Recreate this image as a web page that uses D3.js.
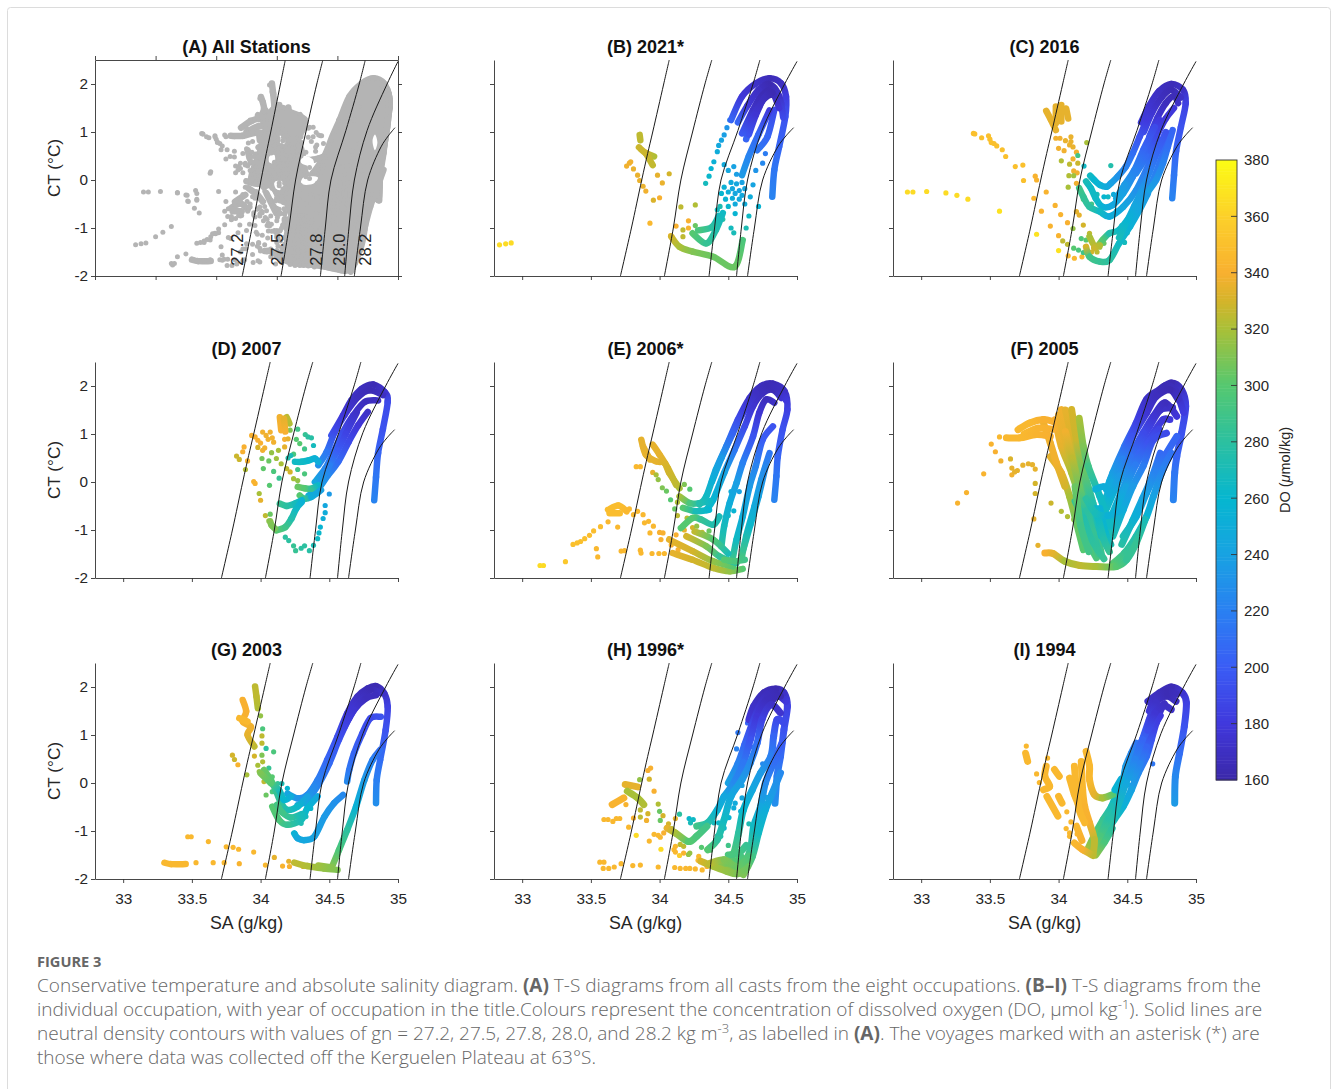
<!DOCTYPE html>
<html>
<head>
<meta charset="utf-8">
<script src="https://cdn.jsdelivr.net/npm/d3@7"></script>
<style>
body { margin:0; background:#fff; }
text { font-family:"Liberation Sans", Arial, sans-serif; fill:#262626; }
.caption text { font-family:"Open Sans", sans-serif; font-weight:300; fill:#666; }
.caption .strong { font-weight:700; }
</style>
</head>
<body>
<div id="chart-area"></div>
<script>
// neutral density contours, [SA, CT]
var contour272 = [[33.715,-2],[33.795,-1],[33.87,0],[33.913,0.55],[33.95,1],[34.03,2],[34.07,2.5]];
var contour275 = [[34.035,-2],[34.1,-1],[34.155,0],[34.24,1],[34.33,2],[34.38,2.5]];
var contour278 = [[34.36,-2],[34.4,-1],[34.447,0],[34.57,1.03],[34.68,2],[34.73,2.5]];
var contour280 = [[34.56,-2],[34.595,-1],[34.64,0],[34.745,1.03],[34.91,2],[35,2.47]];
var contour282 = [[34.64,-2],[34.69,-1],[34.75,0],[34.86,0.69],[34.92,0.92],[34.975,1.09]];
var contourNames = ["27.2","27.5","27.8","28.0","28.2"];
var contourLabelSA = [33.67,34.0,34.32,34.51,34.73];

var saTicks = [33,33.5,34,34.5,35];
var saTicksAll = [32.5,33,33.5,34,34.5,35];
var ctTicks = [-2,-1,0,1,2];
var doTicks = [160,180,200,220,240,260,280,300,320,340,360,380];
var doStops = [160,180,200,220,240,260,280,300,320,330,340,360,380];
var doColours = ["#3b28a8","#4038dc","#3a5cf5","#2a80f2","#18a2e2","#06b6d0","#2cc0a0","#55c870","#a8c038","#d4b42a","#f8b030","#fcd02a","#fcfc14"];

// panel (A) solid parts of the grey cloud, [SA, CT]
var aMainEnvelope = [[34.05,-1.6],[34.08,-1.67],[34.3,-1.8],[34.58,-1.85],[34.7,-1.46],[34.78,-0.49],[34.82,-0.42],[34.85,-0.42],[34.86,0.49],[34.9,1.18],[34.905,1.67],[34.87,1.93],[34.8,2.03],[34.72,2.02],[34.62,1.82],[34.54,1.44],[34.45,0.95],[34.385,0.54],[34.315,0.26],[34.27,0.12],[34.16,-0.2],[34.11,-0.76],[34.08,-1.18]];
var aUpperEnvelope = [[33.89,0.83],[33.96,1.5],[34.11,1.45],[34.25,1.25],[34.19,0.83],[34.16,0.35],[34.25,0.14],[34.16,-0.35],[34.05,-0.49],[33.94,-0.14],[33.78,-0.07],[33.83,0.49]];
var aHoles = [
  [[34.22,0.5],[34.3,0.42],[34.3,0.3],[34.2,0.36]],
  [[34.22,0.05],[34.34,0.05],[34.3,-0.08],[34.2,-0.08]],
  [[33.98,-0.05],[34.04,-0.02],[34.06,-0.2],[34,-0.2]],
  [[34.02,0.9],[34.05,0.95],[34.07,0.75],[34.04,0.72]],
  [[34.79,0.82],[34.81,0.95],[34.83,0.78],[34.81,0.62]],
  [[33.94,0.5],[33.98,0.52],[33.98,0.36],[33.94,0.36]]
];
var aDots = [[34.3,0.9],[34.36,0.92],[34.33,0.73],[34.26,1.08],[34.3,1.1],[33.94,1.98],[33.96,1.84],[33.86,1.7],[33.89,1.63],[33.78,1.25],[33.75,1.08],[33.72,0.9],[33.65,0.9],[33.58,0.9],[33.49,0.9],[33.42,0.9],[33.39,0.96],[33.45,0.14],[33.25,-0.31],[33.34,-0.28],[33.27,-0.45],[33.34,-0.42],[33.32,-0.59],[33.36,-0.69],[33.52,-0.24],[33.18,-0.26],[33,-1.18],[33.06,-1.09],[33.13,-0.97],[33.34,-1.32],[33.4,-1.3],[33.45,-1.25],[33.52,-1.1],[33.14,-1.77],[33.18,-1.6],[33.25,-1.54],[33.31,-1.67],[33.4,-1.68],[33.45,-1.66],[33.55,-1.67],[33.6,-0.6],[33.65,-0.5],[33.7,-0.4],[33.63,-0.8],[33.7,-0.75],[33.76,-0.65],[33.72,-0.3],[33.8,-0.35],[33.75,-1.05],[33.82,-0.95],[33.88,-1.15],[33.9,-0.55],[33.95,-0.75],[34,-0.85],[33.7,-1.5],[33.8,-1.55],[33.95,-1.6],[34,-1.3],[33.65,0.6],[33.7,0.35],[33.75,0.65],[33.8,0.8],[33.8,1],[33.85,1.25],[34.32,0.6],[34.4,0.45],[34.36,0.3],
  [33.98,-0.55],[34.02,-0.7],[34.06,-0.85],[34.04,-1],[33.98,-1.05],[33.92,-0.95],[33.86,-0.75],[33.84,-0.6],[33.78,-0.5],[33.74,-0.15],[33.66,-0.25],[33.58,-0.45],[34,-1.2],[34.04,-1.4],[33.9,-1.35],[33.92,-1.5],[34.02,-1.55],[33.85,-1.3],[33.68,-1.1],[33.6,-1.2],[33.72,0.15],[33.78,0.2],[33.72,0.55],[33.78,0.55]];

var bTracks = [
  [[34.82,-0.35,222],[34.835,0.21,215],[34.87,0.69,205],[34.915,1.32,195],[34.92,1.74,182],[34.885,2.01,170],[34.8,2.12,166],[34.7,2.01,172],[34.6,1.74,178],[34.52,1.25,205]],
  [[34.905,1.5,190],[34.885,1.6,180],[34.825,1.94,164],[34.75,1.81,165],[34.68,1.46,172],[34.6,0.97,198]],
  [[34.86,1.72,172],[34.81,1.78,164],[34.74,1.62,168],[34.67,1.22,182],[34.63,0.85,205]],
  [[34.835,1.46,190],[34.785,0.9,205],[34.71,0.62,215]],
  [[34.8,1.45,180],[34.72,0.95,205],[34.65,0.5,222],[34.6,0.1,235]],
  [[34.9,1.3,190],[34.87,1.75,172],[34.8,2,164],[34.72,1.88,170],[34.64,1.55,178],[34.57,1.2,205]],
  [[34.87,1.5,178],[34.82,1.82,164],[34.76,1.7,168],[34.7,1.35,176],[34.65,0.95,195]],
  [[34.605,-1.25,295],[34.545,-1.81,305],[34.39,-1.6,305],[34.24,-1.49,310],[34.145,-1.39,320],[34.085,-1.18,330]],
  [[34.24,-1.11,300],[34.34,-1.32,285],[34.41,-1.04,275],[34.46,-0.69,265]],
  [[34.28,-1.05,295],[34.38,-0.98,280],[34.43,-0.75,268]],
  [[33.855,0.94,325],[33.86,0.83,325]],
  [[33.85,0.68,328],[33.9,0.56,328],[33.96,0.49,322]],
  [[33.9,0.56,328],[33.95,0.31,326]]
];
var bDots = [[34.51,1.25,228],[34.49,1.09,232],[34.47,0.94,238],[34.45,0.83,242],[34.43,0.72,246],[34.42,0.59,250],[34.395,0.38,254],[34.375,0.24,258],[34.36,0.08,262],[34.335,-0.07,268],
  [33.76,0.29,338],[33.78,0.35,338],[33.79,0.38,338],[33.81,0.23,336],[33.84,0.1,336],[33.855,-0.01,336],[33.88,-0.13,336],[33.9,-0.23,338],[33.955,-0.42,332],[34,-0.37,340],[33.985,0.1,335],[34.02,-0.06,336],[34.07,0.13,330],[33.93,-0.9,345],[34.155,-0.56,325],[34.26,-0.52,322],[34.12,-0.96,340],[34.08,-1.16,345],[34.21,-0.85,340],[34.21,-1,342],[34.17,-1.04,325],[34.17,-1.18,325],[34.26,-0.95,305],
  [32.835,-1.35,365],[32.88,-1.33,365],[32.92,-1.31,365],
  [34.45,-0.28,260],[34.47,-0.15,255],[34.48,-0.4,258],[34.5,-0.55,262],[34.5,-0.25,252],[34.52,-0.05,248],[34.53,-0.38,250],[34.53,-0.18,245],[34.55,-0.5,248],[34.55,-0.28,244],[34.56,-0.08,244],[34.58,-0.4,246],[34.58,-0.22,242],[34.6,-0.05,240],[34.6,-0.32,246],[34.62,-0.5,250],[34.62,-0.18,244],[34.56,0.12,238],[34.54,0.28,240],[34.5,0.2,245],[34.47,0.32,248],[34.44,-0.55,272],[34.46,-0.82,278],[34.42,-0.62,268],[34.55,-0.7,258],[34.52,-1,268],[34.54,-1.1,270],[34.66,-0.35,250],[34.68,-0.1,242],[34.7,0.2,232],[34.65,-0.75,265],[34.63,-1,272],[34.72,-0.55,258],[34.75,0.35,225],[34.77,0.55,218]];

var cTracks = [
  [[34.827,-0.38,222],[34.84,0.1,215],[34.855,0.6,205],[34.89,1.1,195],[34.925,1.6,185],[34.905,1.88,172],[34.82,2,166],[34.73,1.85,170],[34.66,1.55,175],[34.6,1.2,182]],
  [[34.89,1.72,172],[34.82,1.88,165],[34.75,1.72,168],[34.68,1.4,176],[34.62,1,190]],
  [[34.87,1.6,172],[34.84,1.75,166],[34.78,1.6,168],[34.72,1.3,176],[34.66,0.9,192]],
  [[34.84,1.5,180],[34.78,1.28,178],[34.71,0.9,190],[34.64,0.49,208],[34.565,0.14,225]],
  [[34.23,0.09,265],[34.26,0,260],[34.3,-0.1,255],[34.35,-0.14,248],[34.38,-0.07,240],[34.43,0.07,232],[34.49,0.28,222],[34.54,0.56,210],[34.59,0.9,195],[34.64,1.25,180]],
  [[34.2,-0.03,270],[34.235,-0.17,265],[34.27,-0.38,265],[34.32,-0.56,255],[34.395,-0.52,245],[34.47,-0.28,240],[34.54,0.07,225],[34.61,0.49,210],[34.685,0.97,190],[34.735,1.25,180]],
  [[34.15,-0.17,290],[34.18,-0.35,285],[34.225,-0.56,280],[34.3,-0.66,265],[34.37,-0.76,250],[34.47,-0.56,245],[34.565,-0.21,230],[34.66,0.35,212],[34.735,0.83,190]],
  [[34.225,-1.18,320],[34.27,-1.39,325],[34.32,-1.25,300],[34.37,-1.11,275],[34.44,-1.04,265],[34.52,-0.76,255],[34.59,-0.49,245],[34.675,-0.07,225],[34.735,0.35,215],[34.81,0.97,200]],
  [[34.2,-1.39,330],[34.225,-1.6,290],[34.3,-1.7,285],[34.37,-1.67,280],[34.44,-1.32,265],[34.52,-0.97,255],[34.59,-0.62,245],[34.65,-0.28,235]],
  [[34.83,1.04,205],[34.795,0.69,210],[34.76,0.35,222],[34.71,0,232],[34.66,-0.21,240]],
  [[34.78,1,195],[34.72,0.6,205],[34.66,0.15,222],[34.6,-0.25,235],[34.55,-0.55,245],[34.5,-0.85,258],[34.44,-1.2,270]],
  [[34.7,1.1,190],[34.62,0.65,205],[34.55,0.2,222],[34.48,-0.1,235],[34.42,-0.38,245]],
  [[33.91,1.44,335],[33.945,1.25,335],[33.98,1.04,335]],
  [[33.98,1.53,335],[33.98,1.18,335]],
  [[34.02,1.56,335],[34.02,1.22,335]],
  [[34.055,1.49,335],[34.07,1.28,335]],
  [[34.26,-1.42,328],[34.3,-1.36,322]]
];
var cDots = [[32.9,-0.25,365],[32.94,-0.25,365],[33.04,-0.24,365],[33.18,-0.27,365],[33.26,-0.32,365],[33.34,-0.4,365],[33.57,-0.65,368],
  [33.38,0.97,350],[33.39,0.96,350],[33.44,0.88,350],[33.49,0.92,350],[33.5,0.85,350],[33.51,0.78,350],[33.53,0.76,350],[33.55,0.71,350],[33.59,0.63,350],[33.615,0.49,350],[33.685,0.28,350],[33.74,0.31,350],[33.745,-0.01,350],
  [33.83,0.08,342],[33.84,0,342],[33.82,-0.38,345],[33.91,-0.25,342],[33.875,-0.65,342],[33.975,-0.53,342],[34.015,-0.72,342],[33.94,-0.96,342],[34.065,-0.89,340],[34,-1.16,342],[33.84,-1.13,368],[34,-1.47,368],[34.07,-1.58,345],[34.115,-1.63,345],[34.17,-1.6,345],
  [33.98,0.87,338],[34.01,0.87,338],[34.05,0.82,336],[34.09,0.9,336],[34.09,0.8,336],[34.08,0.73,336],[34.105,0.69,336],[34,0.66,338],[34.04,0.61,338],[34.13,0.58,338],[34.205,0.78,320],[34.14,0.51,290],[34.105,0.44,338],[34.14,0.35,328],[34.02,0.4,322],[34.08,0.33,325],[34.185,0.29,265],[34.11,0.19,338],[34.135,0.15,338],[34.075,0.09,322],[34.11,0.09,318],[34.13,-0.07,338],[34.07,-0.15,320],
  [34.105,-1.01,315],[34.13,-0.66,335],[34.15,-0.73,335],[34.18,-0.94,330],[34.225,-1.11,325],[34.03,-1.27,325],[34.065,-1.34,325],[34.11,-1.42,300],[34.145,-1.46,295],[34.18,-1.51,290],[34.2,-1.25,300],[34.165,-1.22,295],[34.18,-0.4,300],[34.24,-0.5,290],[34.28,-0.3,270],[34.36,-0.35,265],[34.38,0.3,275],[34.4,-0.3,250],[34.33,-0.35,260],[34.42,-0.65,258],[34.46,-0.95,262],[34.5,-1.1,270],[34.48,-1.3,268],
  [34.2,-1.4,328],[34.24,-1.5,330],[34.28,-1.5,325],[34.3,-1.4,318],[34.33,-1.32,305]];

var dTracks = [
  [[34.827,-0.38,222],[34.84,0.1,215],[34.855,0.6,205],[34.89,1.1,195],[34.925,1.67,190],[34.905,1.87,175],[34.82,2.03,165],[34.735,1.94,168],[34.66,1.7,172],[34.6,1.39,178],[34.515,0.97,195]],
  [[34.89,1.81,170],[34.795,1.91,165],[34.71,1.77,168],[34.61,1.39,178],[34.54,1.04,190],[34.48,0.62,215],[34.42,0.35,230]],
  [[34.855,1.7,170],[34.76,1.67,168],[34.675,1.39,175],[34.6,1.04,190],[34.53,0.62,208],[34.47,0.28,225],[34.395,0,245]],
  [[34.78,1.46,172],[34.71,1.18,178],[34.64,0.83,190],[34.565,0.42,208],[34.49,0.14,225],[34.42,-0.14,240],[34.35,-0.28,250]],
  [[34.7,1.45,172],[34.62,1,186],[34.56,0.65,200],[34.5,0.35,220],[34.44,0.05,235]],
  [[34.25,0.42,265],[34.3,0.42,265],[34.35,0.45,262],[34.395,0.49,255],[34.42,0.42,250]],
  [[34.27,-0.1,305],[34.32,-0.13,300],[34.37,-0.14,285],[34.42,-0.07,262]],
  [[34.285,-0.28,300],[34.32,-0.35,285],[34.37,-0.31,250],[34.44,-0.17,240]],
  [[34.14,-0.45,285],[34.19,-0.5,280],[34.25,-0.45,270],[34.3,-0.38,260]],
  [[34.115,-1.01,300],[34.18,-0.94,290],[34.225,-0.76,275],[34.26,-0.55,265],[34.3,-0.42,255]],
  [[34.07,-0.82,312],[34.08,-0.9,310],[34.105,-0.97,308]],
  [[34.14,1.35,338],[34.15,1.08,340]],
  [[34.19,1.35,325],[34.21,1.22,322]],
  [[34.17,1.32,335],[34.18,1.05,340]]
];
var dDots = [[34.18,-1.15,280],[34.205,-1.22,280],[34.24,-1.33,285],[34.255,-1.43,285],[34.295,-1.38,280],[34.32,-1.33,280],[34.355,-1.43,278],[34.385,-1.32,272],[34.415,-1.18,265],[34.425,-1.06,262],[34.435,-0.94,258],[34.455,-0.76,252],[34.47,-0.64,250],[34.47,-0.49,245],[34.5,-0.25,235],
  [33.935,0.97,340],[33.96,0.94,340],[33.98,0.87,340],[34,0.81,340],[34.015,1.04,338],[34.04,0.97,338],[34.055,0.89,338],[34.07,1.04,338],[34.085,0.92,338],[34.095,0.83,338],
  [33.88,0.73,340],[33.87,0.63,340],[33.825,0.54,328],[33.845,0.47,328],[33.905,0.44,342],[33.89,0.26,322],[33.98,0.72,330],[34.03,0.71,338],[34.015,0.66,338],[34.01,0.49,308],[34.06,0.44,305],[34.02,0.28,302],[33.95,0.01,342],[33.96,-0.03,342],[34.065,-0.07,300],[33.99,-0.24,320],[34,-0.38,335],[34.035,-0.7,325],[34.07,-0.67,305],[34.06,-0.81,315],[34.095,0.22,295],[34.135,0.08,285],[34.175,0.89,340],[34.2,0.9,335],[34.24,0.58,295],[34.27,1.1,290],[34.325,0.99,285],[34.345,0.94,280],[34.37,0.92,278],[34.385,0.76,268],[34.32,0.69,290],[34.26,0.89,300],[34.285,0.8,300],[34.215,1.08,310],[34.175,0.73,335],[34.13,0.66,320],[34.08,0.61,315],[34.115,0.49,318],[34.15,0.38,320],[34.19,0.28,325],[34.215,0.21,330],[34.24,0.07,320],[34.27,0.03,315],[34.32,0.17,295],[34.27,0.26,290],[34.2,0.5,275],[34.22,0.55,270]];

var eTracks = [
  [[34.835,-0.37,222],[34.85,0.12,215],[34.86,0.53,205],[34.895,1.09,195],[34.93,1.51,185],[34.91,1.89,172],[34.825,2.05,165],[34.74,2,168],[34.655,1.75,174],[34.57,1.3,190],[34.485,0.74,222],[34.41,0.26,245],[34.34,-0.3,265],[34.29,-0.47,275]],
  [[34.885,1.75,175],[34.825,1.92,165],[34.75,1.85,168],[34.68,1.58,175],[34.62,1.16,190],[34.545,0.67,215],[34.47,0.19,240],[34.39,-0.37,258],[34.34,-0.58,265]],
  [[34.92,1.7,180],[34.86,1.95,168],[34.78,2,165],[34.7,1.85,170],[34.62,1.5,182],[34.53,1,205],[34.45,0.5,235],[34.38,0,255]],
  [[34.835,1.65,172],[34.775,1.72,168],[34.725,1.44,176],[34.68,0.95,195],[34.605,0.4,220],[34.56,-0.02,238],[34.51,-0.44,250],[34.47,-0.92,268],[34.45,-1.34,280]],
  [[34.825,1.16,195],[34.75,0.88,200],[34.7,0.33,222],[34.655,-0.09,235],[34.605,-0.72,250],[34.56,-1.2,265],[34.535,-1.55,285]],
  [[34.8,0.6,215],[34.74,0.05,232],[34.69,-0.51,248],[34.63,-1.13,270],[34.595,-1.62,295]],
  [[34.77,0.3,225],[34.72,-0.3,240],[34.66,-0.9,262],[34.61,-1.4,285]],
  [[34.095,-1.48,335],[34.24,-1.62,330],[34.39,-1.79,325],[34.51,-1.86,315],[34.605,-1.81,300]],
  [[34.07,-1.2,335],[34.24,-1.44,330],[34.39,-1.65,315],[34.535,-1.76,300]],
  [[34.195,-1.13,330],[34.34,-1.34,310],[34.435,-1.55,285],[34.56,-1.69,280]],
  [[34.255,-1.03,325],[34.39,-1.2,300],[34.5,-1.49,270]],
  [[34.47,-1.62,300],[34.55,-1.65,295],[34.62,-1.62,290]],
  [[34.145,-0.3,320],[34.22,-0.44,295],[34.29,-0.44,275],[34.365,-0.4,265]],
  [[34.17,-0.54,300],[34.265,-0.61,270],[34.36,-0.58,260]],
  [[34.155,-0.96,300],[34.24,-0.75,300],[34.3,-0.78,285],[34.39,-0.89,275],[34.435,-0.72,270]],
  [[33.867,0.88,335],[33.9,0.57,335],[33.975,0.43,335],[34.035,0.4,332],[34.07,0.19,330],[34.145,-0.13,320]],
  [[33.95,0.78,335],[34,0.57,335],[34.06,0.29,330],[34.12,-0.06,325]],
  [[33.88,0.74,335],[33.93,0.47,335]],
  [[33.625,-0.58,348],[33.7,-0.49,348],[33.76,-0.61,345]],
  [[33.636,-0.65,348],[33.71,-0.65,348]]
];
var eDots = [[33.83,0.32,345],[33.86,0.32,345],[33.95,0.2,335],[33.975,0.15,320],[33.99,0.05,315],[34.02,-0.12,310],[34.05,-0.19,305],[34.08,-0.37,300],[34.11,-0.56,305],[34.13,-0.7,325],
  [33.78,-0.56,345],[33.81,-0.68,345],[33.84,-0.61,345],[33.88,-0.68,345],[33.89,-0.85,345],[33.92,-0.82,345],[33.955,-0.92,345],[33.93,-1.06,345],[34,-1.05,340],[34.025,-1.06,340],[34.01,-1.2,340],[34.07,-1.18,335],[34.085,-1.31,340],[34.135,-1.41,340],[33.625,-0.83,345],[33.57,-0.93,348],[33.52,-1.02,348],[33.49,-1.11,348],[33.455,-1.18,350],[33.425,-1.24,350],[33.4,-1.27,350],[33.37,-1.3,350],[33.695,-0.94,345],[33.54,-1.39,345],[33.55,-1.56,345],[33.72,-1.44,345],[33.745,-1.43,345],[33.86,-1.42,345],[33.865,-1.48,345],[33.945,-1.49,345],[33.995,-1.49,345],[34.035,-1.49,345],[33.315,-1.66,355],[33.13,-1.74,365],[33.155,-1.74,365],
  [34.18,-0.05,310],[34.22,-0.15,300],[34.2,-0.75,322],[34.24,-0.95,330],[34.13,-0.42,322],[34.27,-0.92,315],[34.31,-1.05,325],[34.36,-1.02,305],[34.18,-1,335],[34.12,-1.1,340],[34.52,-0.2,250],[34.54,-0.6,258],[34.58,-0.2,240],[34.5,-0.7,268]];

var fTracks = [
  [[34.835,-0.37,222],[34.845,0.19,215],[34.86,0.53,205],[34.895,1.02,195],[34.925,1.58,185],[34.895,1.92,172],[34.82,2.06,164],[34.735,1.92,168],[34.64,1.72,172],[34.565,1.23,188],[34.48,0.74,215],[34.395,0.19,240],[34.35,-0.16,255]],
  [[34.91,1.45,182],[34.85,1.9,168],[34.77,2,165],[34.68,1.75,170],[34.6,1.38,180],[34.52,0.9,198],[34.44,0.45,225],[34.37,0,248]],
  [[34.87,1.72,172],[34.81,1.92,164],[34.71,1.78,168],[34.64,1.44,176],[34.54,0.95,195],[34.47,0.47,222],[34.395,-0.02,245],[34.325,-0.44,265]],
  [[34.83,1.55,172],[34.74,1.5,172],[34.66,1.15,184],[34.57,0.72,202],[34.49,0.3,225],[34.41,-0.15,250],[34.35,-0.55,265]],
  [[34.86,1.37,178],[34.775,1.65,168],[34.69,1.37,176],[34.615,1.02,190],[34.52,0.53,212],[34.445,0.12,235],[34.375,-0.3,255],[34.325,-0.72,270]],
  [[34.81,1.3,180],[34.76,1.3,178],[34.69,1.02,186],[34.59,0.6,205],[34.52,0.19,225],[34.445,-0.3,248],[34.375,-0.78,265]],
  [[34.73,1.1,186],[34.65,0.8,195],[34.56,0.35,218],[34.49,-0.1,240],[34.42,-0.6,258],[34.36,-1.05,272]],
  [[34.785,1.02,190],[34.69,0.88,192],[34.615,0.33,218],[34.54,-0.09,235],[34.47,-0.58,250],[34.395,-1.13,272]],
  [[34.74,0.6,208],[34.68,0.1,226],[34.61,-0.35,242],[34.54,-0.8,258],[34.46,-1.3,278]],
  [[34.86,0.95,205],[34.785,0.6,208],[34.71,0.19,222],[34.64,-0.23,238],[34.565,-0.72,252],[34.47,-1.13,272]],
  [[34.82,0.6,212],[34.76,0.26,222],[34.69,-0.3,240],[34.64,-0.72,258],[34.565,-1.13,275],[34.48,-1.48,285],[34.395,-1.7,300]],
  [[33.9,-1.48,340],[33.96,-1.49,335],[34.045,-1.65,320],[34.155,-1.74,325],[34.275,-1.76,320],[34.42,-1.76,300],[34.495,-1.62,285],[34.565,-1.27,285],[34.63,-0.78,270]],
  [[33.975,1.3,340],[34.02,0.74,335],[34.095,0.19,320],[34.17,-0.51,300],[34.215,-1.2,295],[34.275,-1.58,295]],
  [[34,1.4,338],[34.05,0.85,335],[34.12,0.25,318],[34.19,-0.4,290],[34.25,-1.1,285],[34.29,-1.5,290]],
  [[34.02,1.51,338],[34.07,0.95,335],[34.145,0.33,315],[34.215,-0.3,295],[34.275,-1,285],[34.31,-1.48,290]],
  [[34.05,1.5,335],[34.1,0.9,332],[34.16,0.3,310],[34.23,-0.35,283],[34.29,-1.05,278]],
  [[34.095,1.51,330],[34.13,0.88,328],[34.18,0.26,305],[34.25,-0.44,275],[34.31,-1.13,270]],
  [[34.15,1.33,320],[34.18,0.74,310],[34.215,0.33,290],[34.3,-0.3,265],[34.375,-0.92,265]],
  [[33.94,0.53,335],[34.02,0.19,335],[34.08,-0.3,320],[34.13,-0.85,305],[34.18,-1.41,300]],
  [[33.89,1.23,338],[33.94,0.81,338],[33.985,0.4,338],[34.045,-0.09,330]],
  [[33.705,1.09,345],[33.79,1.23,345],[33.89,1.3,340],[33.96,1.26,340]],
  [[33.75,1,345],[33.85,1.12,342],[33.96,1.1,340]],
  [[33.62,0.92,345],[33.72,0.92,345],[33.84,0.99,342],[33.94,0.95,340]],
  [[34.05,1.05,338],[34.1,0.5,325],[34.15,-0.1,305],[34.2,-0.6,280],[34.25,-1.05,285],[34.28,-1.35,280]],
  [[34.12,-0.4,285],[34.18,-0.75,275],[34.24,-1.2,280],[34.33,-1.6,285]],
  [[34.12,-0.1,305],[34.16,-0.9,290],[34.22,-1.45,290]],
  [[34.3,-0.55,255],[34.34,-1.05,262],[34.38,-1.3,272]],
  [[34.27,-0.55,262],[34.33,-1.2,275],[34.37,-1.45,285]],
  [[34.2,-0.35,280],[34.27,-0.65,270],[34.36,-0.7,255],[34.44,-0.6,250]],
  [[34.27,-0.15,255],[34.33,-0.1,250],[34.37,-0.25,250]]
];
var fDots = [[33.57,0.94,345],[33.51,0.79,342],[33.54,0.63,340],[33.58,0.44,338],[33.65,0.48,332],[33.66,0.29,335],[33.7,0.24,335],[33.66,0.15,338],[33.68,0.21,335],[33.74,0.35,335],[33.78,0.38,335],[33.81,0.36,335],[33.83,0.27,335],[33.455,0.17,342],[33.33,-0.22,342],[33.265,-0.44,342],[33.83,-0.03,330],[33.83,-0.24,330],[33.945,-0.44,328],[34.02,-0.61,322],[34.065,-0.72,322],[34.11,-0.78,320],[33.82,-0.77,335],[33.85,-1.32,335]];

var gTracks = [
  [[34.84,-0.42,228],[34.845,0.06,220],[34.87,0.48,210],[34.91,1.1,195],[34.925,1.59,185],[34.9,1.87,172],[34.84,2.02,164],[34.78,1.97,165],[34.705,1.8,170],[34.63,1.45,180],[34.56,0.97,192],[34.485,0.48,205],[34.415,0.06,218],[34.34,-0.25,225],[34.27,-0.32,232],[34.195,-0.22,242]],
  [[34.875,1.87,172],[34.8,1.94,165],[34.72,1.69,172],[34.645,1.35,182],[34.57,0.9,195],[34.5,0.41,208],[34.425,-0.01,220],[34.34,-0.35,232],[34.27,-0.46,245]],
  [[34.84,1.83,168],[34.765,1.76,168],[34.68,1.52,176],[34.61,1.17,186],[34.535,0.76,198],[34.465,0.27,212],[34.39,-0.08,225],[34.32,-0.42,240]],
  [[34.875,1.38,195],[34.8,1.35,190],[34.74,1.03,195],[34.68,0.62,205],[34.645,0.27,215],[34.63,0.03,225]],
  [[34.87,0.69,210],[34.815,0.48,220],[34.755,0.06,235],[34.695,-0.49,255],[34.63,-0.98,280],[34.57,-1.4,295],[34.525,-1.71,310]],
  [[34.6,-0.25,225],[34.535,-0.42,230],[34.465,-0.7,235],[34.39,-1.12,240],[34.32,-1.19,245],[34.27,-1.15,245],[34.245,-1.05,255]],
  [[34.415,-0.28,245],[34.34,-0.53,260],[34.295,-0.77,270],[34.195,-0.87,285],[34.135,-0.77,295],[34.085,-0.49,300]],
  [[34.34,-0.28,240],[34.27,-0.49,262],[34.195,-0.56,272],[34.15,-0.42,280],[34.11,-0.15,285],[34.075,0.06,300],[34.025,0.27,305]],
  [[34.22,-0.28,250],[34.17,-0.35,260],[34.135,-0.15,270],[34.075,0,300],[34,0.2,310]],
  [[34.3,-0.65,268],[34.22,-0.72,282],[34.16,-0.62,290],[34.12,-0.45,292]],
  [[34.245,-1.66,325],[34.34,-1.73,322],[34.46,-1.78,315],[34.56,-1.81,310]],
  [[34.42,-1.72,318],[34.52,-1.76,312]],
  [[33.3,-1.66,345],[33.35,-1.69,345],[33.455,-1.69,345]],
  [[33.96,2.01,325],[33.97,1.8,325],[33.98,1.56,322]],
  [[33.87,1.73,340],[33.895,1.49,340],[33.87,1.28,342],[33.93,1.17,338],[33.905,1,335],[33.955,0.76,325]],
  [[33.845,1.35,345],[33.905,1.28,345]]
];
var gDots = [[33.47,-1.12,345],[33.495,-1.12,345],[33.62,-1.22,345],[33.75,-1.33,345],[33.8,-1.34,345],[33.84,-1.38,345],[33.95,-1.44,345],[34.1,-1.55,335],[33.53,-1.66,345],[33.655,-1.66,345],[33.735,-1.66,345],[33.845,-1.68,342],[34.035,-1.71,345],[34.16,-1.73,342],[34.21,-1.74,340],[34.205,-1.63,335],[34.31,-1.74,330],
  [34,1.4,315],[34.015,1.13,295],[34.01,0.98,325],[34.01,0.83,325],[34.04,0.72,280],[34.095,0.65,295],[33.955,0.56,330],[34.01,0.58,310],[33.98,0.37,320],[34.015,0.44,322],[33.795,0.58,330],[33.81,0.49,328],[33.835,0.38,342],[33.9,0.17,320],[33.99,0.24,315],[34.015,0.2,305],[34.06,0.31,285],[34.025,0.03,325],[34.05,0.06,320],[34.085,0.13,300],[34.04,-0.25,305],[34.085,-0.18,295],[34.125,-0.01,285],[34.155,-0.01,272],[34.195,-0.11,260],[34.365,-0.53,262],[34.33,-0.7,268],[34.295,-0.84,272],[34.25,-1.05,255]];

var hTracks = [
  [[34.84,-0.42,228],[34.855,0.14,220],[34.88,0.56,208],[34.905,1.11,195],[34.93,1.6,185],[34.905,1.88,172],[34.845,1.96,164],[34.76,1.88,166],[34.685,1.6,172],[34.65,1.32,178]],
  [[34.92,1.7,180],[34.85,1.85,165],[34.78,1.85,168],[34.72,1.55,175],[34.67,1.2,190],[34.62,0.8,205],[34.57,0.4,222],[34.5,0,240]],
  [[34.83,1.75,166],[34.77,1.6,170],[34.73,1.2,190]],
  [[34.88,1.81,165],[34.78,1.74,168],[34.71,1.39,178],[34.66,0.9,195],[34.61,0.42,215],[34.54,0,225],[34.47,-0.28,245],[34.42,-0.56,255],[34.35,-0.83,275],[34.27,-0.9,290]],
  [[34.88,1.46,175],[34.81,1.63,172],[34.745,1.32,185],[34.71,0.83,210],[34.66,0.42,225],[34.6,0.07,235],[34.52,-0.28,245],[34.47,-0.76,265],[34.42,-1.18,280],[34.35,-1.39,300]],
  [[34.905,1.25,190],[34.855,1.32,190],[34.83,0.97,205],[34.81,0.56,220],[34.735,0.21,235],[34.675,-0.14,245],[34.61,-0.56,260],[34.575,-1.04,280],[34.54,-1.46,295],[34.49,-1.74,310]],
  [[34.89,0.83,200],[34.83,0.42,210],[34.77,0,225],[34.735,-0.49,245],[34.685,-0.9,265],[34.66,-1.39,285],[34.59,-1.88,310]],
  [[34.88,0.21,225],[34.82,-0.21,235],[34.77,-0.56,250],[34.72,-1.04,265],[34.675,-1.53,290],[34.61,-1.91,310]],
  [[34.42,-1.75,318],[34.52,-1.78,312],[34.6,-1.75,305],[34.65,-1.6,300]],
  [[34.45,-1.68,312],[34.54,-1.65,300],[34.6,-1.55,295]],
  [[34.5,-1.5,295],[34.58,-1.45,292],[34.63,-1.3,285]],
  [[34.3,-1.63,330],[34.395,-1.74,320],[34.49,-1.84,315],[34.565,-1.89,310],[34.64,-1.74,305]],
  [[34.37,-1.67,325],[34.47,-1.6,310],[34.565,-1.74,305],[34.65,-1.53,295]],
  [[34.055,-0.94,335],[34.115,-1.04,320],[34.21,-1.22,300],[34.27,-1.11,295],[34.345,-0.9,290]],
  [[33.75,-0.03,335],[33.84,-0.08,335]],
  [[33.765,-0.17,320],[33.84,-0.31,320],[33.885,-0.45,322]],
  [[33.655,-0.45,342],[33.74,-0.31,342]]
];
var hDots = [[33.935,0.31,340],[33.915,0.26,340],[33.855,0.07,315],[33.925,0.08,330],[33.96,-0.17,340],[33.99,-0.44,322],[34,-0.59,305],[34.005,-0.78,305],[34.025,-0.68,330],[33.915,-0.64,330],[33.905,-0.78,338],[33.86,-0.56,325],[33.86,-0.71,325],[33.81,-0.73,340],[33.755,-0.45,342],[33.595,-0.76,345],[33.625,-0.76,345],[33.66,-0.8,345],[33.685,-0.74,345],[33.71,-0.74,345],[33.775,-0.92,345],[33.83,-1.09,365],[33.96,-1.07,345],[33.99,-1.09,345],[34.005,-1.13,345],[34.03,-1.04,340],[34.065,-0.85,330],[34.09,-0.95,322],[33.925,-1.21,345],[34.115,-0.74,335],[34.145,-0.65,280],[34.215,-0.74,262],[34.245,-0.76,265],[34.225,-0.83,270],[34.285,-0.88,285],[34.01,-1.38,365],[34.115,-1.32,345],[34.105,-1.39,345],[34.15,-1.28,325],[34.175,-1.32,325],[34.115,-1.44,345],[34.145,-1.51,358],[34.175,-1.46,342],[34.22,-1.46,315],[34.21,-1.49,315],[34.285,-1.53,345],[34.305,-1.34,300],[34.37,-1.4,300],[33.565,-1.65,345],[33.595,-1.65,345],[33.59,-1.78,345],[33.63,-1.78,345],[33.67,-1.75,345],[33.72,-1.68,345],[33.805,-1.72,345],[33.86,-1.71,345],[33.99,-1.75,345],[34.11,-1.76,345],[34.15,-1.78,345],[34.19,-1.78,345],[34.22,-1.78,345],[34.26,-1.79,345],[34.31,-1.81,345],[34.345,-1.74,340],[34.28,-1.61,345],[34.395,-0.83,268],[34.43,-0.83,262],[34.47,-0.94,262],[34.445,-1.11,275],[34.42,-1.1,278],[34.505,-0.72,258],[34.54,-0.52,250],[34.59,-0.59,252],[34.55,-0.42,248],[34.6,-0.31,245],
  [34.57,1.05,215],[34.56,0.71,222],[34.64,1.25,205],[34.675,1.53,190],[34.63,0.45,225],[34.68,0.75,212],[34.72,0.1,235],[34.75,0.4,225],[34.55,-0.15,245],[34.6,-0.05,240],[34.78,-0.3,245],[34.65,-0.85,272],[34.5,-1.3,290]];

var iTracks = [
  [[34.845,-0.42,235],[34.85,0.14,225],[34.88,0.62,210],[34.915,1.18,195],[34.93,1.67,185],[34.9,1.88,175],[34.82,2,165],[34.735,1.88,168],[34.65,1.7,172]],
  [[34.86,1.85,168],[34.78,1.92,165],[34.7,1.75,170],[34.66,1.5,178]],
  [[34.855,1.7,170],[34.785,1.81,165],[34.71,1.67,172],[34.66,1.32,185],[34.61,0.9,205],[34.565,0.49,225],[34.49,0.14,240],[34.44,-0.28,260]],
  [[34.82,1.53,172],[34.76,1.6,170],[34.71,1.25,182],[34.675,0.9,195],[34.64,0.56,210],[34.58,0.21,225],[34.53,-0.14,240],[34.47,-0.49,255],[34.405,-0.76,270],[34.345,-1.04,285],[34.275,-1.32,305],[34.25,-1.49,320]],
  [[34.74,1.4,180],[34.68,1.1,188],[34.64,0.75,205],[34.59,0.4,222],[34.54,0.1,235]],
  [[34.565,0.83,215],[34.53,0.62,225],[34.49,0.35,235],[34.47,0.07,245],[34.435,-0.14,258],[34.385,-0.49,272],[34.325,-0.76,285],[34.27,-1.04,300],[34.21,-1.39,320]],
  [[34.685,1.32,185],[34.61,0.9,205],[34.555,0.49,222],[34.49,0,245],[34.42,-0.56,270],[34.345,-0.9,285],[34.285,-1.18,300]],
  [[34.77,1.65,170],[34.7,1.45,176],[34.65,1.1,192]],
  [[34.36,-0.75,278],[34.3,-1.1,295],[34.24,-1.4,315]],
  [[34.39,-0.95,280],[34.33,-1.25,295],[34.27,-1.5,315]],
  [[34.2,0.66,345],[34.225,0.35,345],[34.225,0.07,345],[34.26,-0.24,335],[34.32,-0.31,320],[34.395,-0.24,300]],
  [[34.165,0.45,345],[34.175,-0.14,345],[34.19,-0.49,342],[34.225,-0.83,340],[34.26,-1.18,325],[34.25,-1.49,325]],
  [[34.115,0.35,345],[34.13,-0.14,345],[34.15,-0.56,345],[34.19,-0.83,345]],
  [[34.13,-0.9,345],[34.17,-1.2,340]],
  [[34.115,-1.25,345],[34.175,-1.39,340],[34.25,-1.51,325]],
  [[34.08,0.1,345],[34.115,-0.24,345],[34.14,-0.42,345]],
  [[33.76,0.62,345],[33.775,0.45,345]],
  [[33.91,0.35,345],[33.9,0.14,345],[33.935,-0.07,345],[33.89,-0.14,345]],
  [[33.97,0.28,345],[34.005,0.14,345]],
  [[33.915,-0.28,345],[33.995,-0.69,345]],
  [[34,-0.28,345],[34.025,-0.42,345]],
  [[34.41,-0.14,258],[34.455,0.08,252]]
];
var iDots = [[33.765,0.77,345],[33.84,0.19,345],[33.86,0.01,345],[33.92,0.52,345],[34.06,-0.6,345],[34.09,-0.81,345],[34.055,-0.95,345],[34.08,-1.04,345],[34.135,-1.06,345],[34.08,-1.11,345],[34.685,0.4,215],[34.6,0.3,222],[34.62,0.6,212],[34.58,0.65,215],[34.54,0.25,232],[34.52,-0.05,245]];

var panelTitles = ["(A) All Stations","(B) 2021*","(C) 2016","(D) 2007","(E) 2006*","(F) 2005","(G) 2003","(H) 1996*","(I) 1994"];
var panelTracks = [null,bTracks,cTracks,dTracks,eTracks,fTracks,gTracks,hTracks,iTracks];
var panelDots = [aDots,bDots,cDots,dDots,eDots,fDots,gDots,hDots,iDots];
var allContours = [contour272,contour275,contour278,contour280,contour282];

var colLeft = [95, 494, 893], rowTop = [60, 362, 663];
var plotW = 303, plotH = 216;
var grey = "#b4b4b4";
var trackWidth = [6.5,6.5,6.5,6.5,6.5,7,6.5,7,7];

var svg = d3.select("#chart-area").append("svg").attr("width",1333).attr("height",1089).style("display","block");
svg.append("rect").attr("x",7.5).attr("y",7.5).attr("width",1323).attr("height",1200).attr("rx",3)
    .attr("fill","none").attr("stroke","#dcdcdc");
var defs = svg.append("defs");

var colour = d3.scaleLinear().domain(doStops).range(doColours).clamp(true);
var yScale = d3.scaleLinear().domain([-2,2.5]).range([plotH,0]);
var gradCount = 0;

// one smooth piece per pair of readings, so the colour can change along it
function drawTrack(g, track, x, plain, width) {
    var pts = track.map(function(d){ return [x(d[0]), yScale(d[1])]; });
    for (var i = 0; i < pts.length - 1; i++) {
        var p0 = pts[i-1] || pts[i], p1 = pts[i], p2 = pts[i+1], p3 = pts[i+2] || p2;
        var stroke = grey;
        if (!plain) {
            var id = "seg" + (gradCount++);
            var grad = defs.append("linearGradient").attr("id",id).attr("gradientUnits","userSpaceOnUse")
                .attr("x1",p1[0]).attr("y1",p1[1]).attr("x2",p2[0]).attr("y2",p2[1]);
            grad.append("stop").attr("offset",0).attr("stop-color",colour(track[i][2]));
            grad.append("stop").attr("offset",1).attr("stop-color",colour(track[i+1][2]));
            stroke = "url(#" + id + ")";
        }
        var c1 = [p1[0] + (p2[0]-p0[0])/6, p1[1] + (p2[1]-p0[1])/6];
        var c2 = [p2[0] - (p3[0]-p1[0])/6, p2[1] - (p3[1]-p1[1])/6];
        g.append("path")
            .attr("d","M" + p1 + "C" + c1 + " " + c2 + " " + p2)
            .attr("fill","none").attr("stroke",stroke).attr("stroke-width",width).attr("stroke-linecap","round");
    }
}

panelTitles.forEach(function(title, n) {
    var col = n % 3, row = Math.floor(n / 3);
    var g = svg.append("g").attr("transform","translate(" + colLeft[col] + "," + rowTop[row] + ")");
    var x = d3.scaleLinear().domain(n == 0 ? [32.5,35] : [32.795,35]).range([0,plotW]);

    if (n == 0) {
        // union of all the occupations, in grey
        panelTracks.slice(1).forEach(function(tracks) {
            tracks.forEach(function(t){ drawTrack(g, t, x, true, trackWidth[0]); });
        });
        [aMainEnvelope, aUpperEnvelope].forEach(function(env) {
            g.append("path").attr("fill",grey).attr("stroke",grey).attr("stroke-width",3).attr("stroke-linejoin","round")
                .attr("d", d3.line().curve(d3.curveCatmullRomClosed.alpha(0.5)).x(function(d){ return x(d[0]); }).y(function(d){ return yScale(d[1]); })(env));
        });
        aHoles.forEach(function(hole) {
            g.append("path").attr("fill","#fff")
                .attr("d", d3.line().curve(d3.curveCatmullRomClosed.alpha(0.5)).x(function(d){ return x(d[0]); }).y(function(d){ return yScale(d[1]); })(hole));
        });
        panelDots.forEach(function(dots) {
            g.selectAll(null).data(dots).enter().append("circle")
                .attr("cx",function(d){ return x(d[0]); }).attr("cy",function(d){ return yScale(d[1]); })
                .attr("r",2.5).attr("fill",grey);
        });
    } else {
        g.selectAll(null).data(panelDots[n]).enter().append("circle")
            .attr("cx",function(d){ return x(d[0]); }).attr("cy",function(d){ return yScale(d[1]); })
            .attr("r",2.6).attr("fill",function(d){ return colour(d[2]); });
        panelTracks[n].forEach(function(t){ drawTrack(g, t, x, false, trackWidth[n]); });
    }

    allContours.forEach(function(c) {
        g.append("path").attr("fill","none").attr("stroke","#1a1a1a").attr("stroke-width",1)
            .attr("d", d3.line().curve(d3.curveCatmullRom.alpha(0.5))
                .x(function(d){ return x(d[0]); }).y(function(d){ return yScale(d[1]); })(c));
    });

    var xAxis = d3.axisBottom(x).tickValues(n == 0 ? saTicksAll : saTicks).tickSize(4).tickSizeOuter(0)
        .tickFormat(row == 2 ? d3.format("") : "");
    var yAxis = d3.axisLeft(yScale).tickValues(ctTicks).tickSize(4).tickSizeOuter(0)
        .tickFormat(col == 0 ? function(d){ return d < 0 ? "-" + Math.abs(d) : d; } : "");
    var gx = g.append("g").attr("transform","translate(0," + plotH + ")").call(xAxis);
    var gy = g.append("g").call(yAxis);
    gx.selectAll("text").attr("font-size","15.3px").attr("font-family",null).attr("dy","1.2em");
    gy.selectAll("text").attr("font-size","15.3px").attr("font-family",null);
    if (n == 0) {
        g.append("g").call(d3.axisTop(x).tickValues(saTicksAll).tickSize(4).tickSizeOuter(0).tickFormat(""));
        g.append("g").attr("transform","translate(" + plotW + ",0)")
            .call(d3.axisRight(yScale).tickValues(ctTicks).tickSize(4).tickSizeOuter(0).tickFormat(""));
        contourNames.forEach(function(name, i) {
            g.append("text").attr("text-anchor","middle").attr("font-size","16.5px")
                .attr("transform","translate(" + (x(contourLabelSA[i]) + 6) + "," + yScale(-1.45) + ") rotate(-90)")
                .text(name);
        });
    }
    g.selectAll(".domain,.tick line").attr("stroke","#333").attr("stroke-width",0.9);

    g.append("text").attr("x",plotW/2).attr("y",-7).attr("text-anchor","middle")
        .attr("font-size","18px").attr("font-weight","bold").style("fill","#111").text(title);
    if (col == 0) {
        g.append("text").attr("transform","translate(-35," + (plotH/2) + ") rotate(-90)")
            .attr("text-anchor","middle").attr("font-size","17.2px").text("CT (°C)");
    }
    if (row == 2) {
        g.append("text").attr("x",plotW/2).attr("y",plotH + 50).attr("text-anchor","middle")
            .attr("font-size","17.8px").text("SA (g/kg)");
    }
});

// colourbar
var barTop = 160, barH = 620, barLeft = 1216, barW = 21;
var barScale = d3.scaleLinear().domain([160,380]).range([barTop + barH, barTop]);
var barG = svg.append("g");
d3.range(160,380,1).forEach(function(v) {
    barG.append("rect").attr("x",barLeft).attr("width",barW)
        .attr("y",barScale(v + 1)).attr("height",barScale(v) - barScale(v + 1) + 0.5)
        .attr("fill",colour(v + 0.5));
});
barG.append("rect").attr("x",barLeft).attr("y",barTop).attr("width",barW).attr("height",barH)
    .attr("fill","none").attr("stroke","#333").attr("stroke-width",0.9);
doTicks.forEach(function(v) {
    if (v != 160 && v != 380) {
        barG.append("line").attr("x1",barLeft + barW - 6).attr("x2",barLeft + barW)
            .attr("y1",barScale(v)).attr("y2",barScale(v)).attr("stroke","#333").attr("stroke-width",0.9);
    }
    barG.append("text").attr("x",barLeft + barW + 7).attr("y",barScale(v)).attr("dy","0.36em")
        .attr("font-size","15px").text(v);
});
var doLabel = svg.append("text").attr("transform","translate(1290,470) rotate(-90)")
    .attr("text-anchor","middle").attr("font-size","14.5px");
doLabel.append("tspan").text("DO (");
doLabel.append("tspan").attr("font-style","italic").text("μ");
doLabel.append("tspan").text("mol/kg)");

// caption
var cap = svg.append("g").attr("class","caption");
cap.append("text").attr("class","strong").attr("x",37).attr("y",967).attr("font-size","14.6px").text("FIGURE 3");
var capParts = [
    [["Conservative temperature and absolute salinity diagram. "],["(A)",1],[" T-S diagrams from all casts from the eight occupations. "],["(B–I)",1],[" T-S diagrams from the"]],
    [["individual occupation, with year of occupation in the title.Colours represent the concentration of dissolved oxygen (DO, μmol kg"],["-1",2],["). Solid lines are",3]],
    [["neutral density contours with values of gn = 27.2, 27.5, 27.8, 28.0, and 28.2 kg m"],["-3",2],[", as labelled in ",3],["(A)",1],[". The voyages marked with an asterisk (*) are"]],
    [["those where data was collected off the Kerguelen Plateau at 63°S."]]
];
capParts.forEach(function(parts, i) {
    var t = cap.append("text").attr("x",37).attr("y",991.5 + i*24).attr("font-size","19px");
    parts.forEach(function(p) {
        var s = t.append("tspan").text(p[0]);
        if (p[1] == 1) s.attr("class","strong");
        if (p[1] == 2) s.attr("font-size","13px").attr("dy","-7");
        if (p[1] == 3) s.attr("dy","7");
    });
});
</script>
</body>
</html>
